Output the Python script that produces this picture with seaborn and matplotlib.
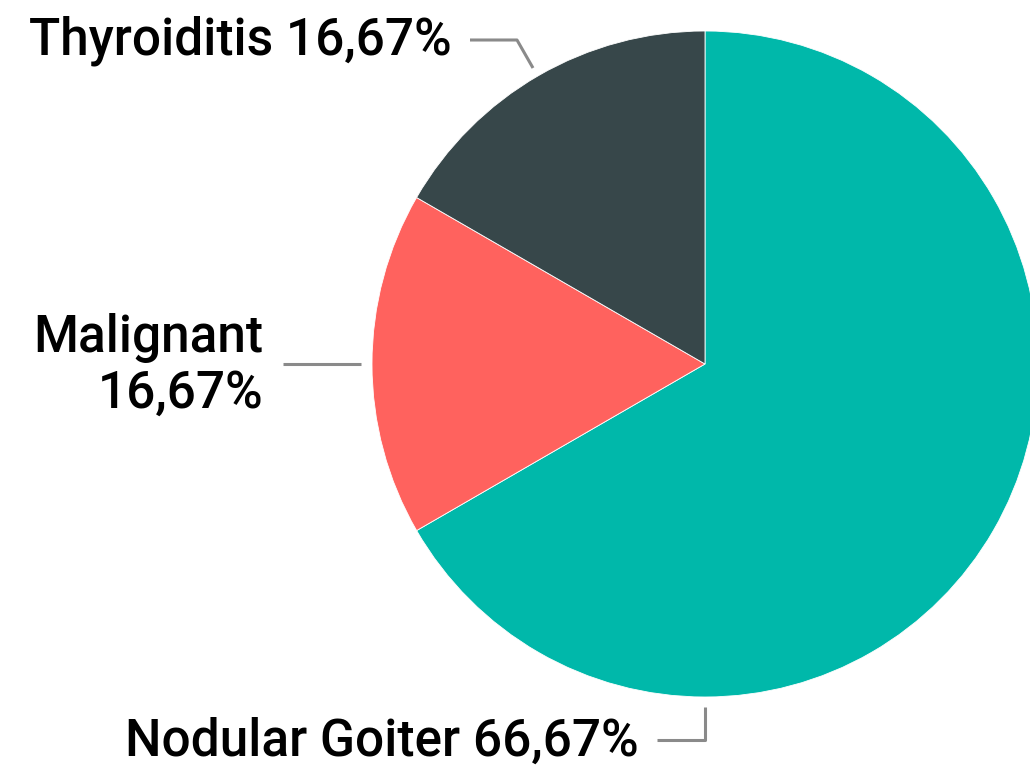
import matplotlib
matplotlib.use("Agg")
import matplotlib.pyplot as plt
import seaborn as sns

categories = ["Nodular Goiter", "Malignant", "Thyroiditis"]
values = [66.67, 16.67, 16.67]
label_texts = ["Nodular Goiter 66,67%", "Malignant\n16,67%", "Thyroiditis 16,67%"]
colors = ["#00B8AA", "#FF625E", "#37474A"]

sns.set_theme(style="white")
plt.rcParams["font.family"] = ["Roboto", "DejaVu Sans"]

W, H = 1030, 771
fig = plt.figure(figsize=(W / 100, H / 100), dpi=100)
cx, cy, r = 705, 364, 333
ax = fig.add_axes([(cx - r) / W, (H - (cy + r)) / H, 2 * r / W, 2 * r / H])
ax.pie(values, colors=sns.color_palette(colors), startangle=90, counterclock=False,
       radius=1, wedgeprops=dict(edgecolor="white", linewidth=0.6))
ax.set_xlim(-1, 1)
ax.set_ylim(-1, 1)
ax.set_aspect("equal")
ax.axis("off")


def px(x, y):
    return ((x - cx) / r, (cy - y) / r)


fs = 37
fw = "medium"
lc = "#8A8A8A"
lw = 2.2

# Thyroiditis
ax.text(*px(452, 55), label_texts[2], ha="right", va="baseline", fontsize=fs, fontweight=fw,
        color="black", clip_on=False)
xs, ys = zip(px(470, 40), px(517, 40), px(533, 68))
ax.plot(xs, ys, color=lc, lw=lw, clip_on=False, solid_capstyle="butt")

# Malignant
ax.text(*px(263, 408), label_texts[1], ha="right", va="baseline", fontsize=fs, fontweight=fw,
        color="black", linespacing=1.16, multialignment="right", clip_on=False)
xs, ys = zip(px(283, 364), px(361, 364))
ax.plot(xs, ys, color=lc, lw=lw, clip_on=False, solid_capstyle="butt")

# Nodular Goiter
ax.text(*px(125, 756), label_texts[0], ha="left", va="baseline", fontsize=fs, fontweight=fw,
        color="black", clip_on=False)
xs, ys = zip(px(657, 740), px(705, 740), px(705, 707))
ax.plot(xs, ys, color=lc, lw=lw, clip_on=False, solid_capstyle="butt")

fig.savefig("out.png", dpi=100)
